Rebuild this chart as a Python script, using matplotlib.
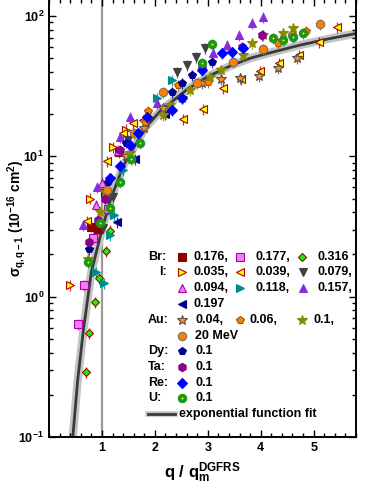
import matplotlib
matplotlib.use('Agg')
import matplotlib.pyplot as plt
from matplotlib.ticker import MultipleLocator, LogLocator, NullFormatter
import numpy as np

plt.rcParams['font.family'] = ['Liberation Sans', 'DejaVu Sans']
plt.rcParams['font.weight'] = 'bold'
plt.rcParams['mathtext.fontset'] = 'custom'
plt.rcParams['mathtext.rm'] = 'Liberation Sans:bold'
plt.rcParams['mathtext.it'] = 'Liberation Sans:bold'
plt.rcParams['mathtext.bf'] = 'Liberation Sans:bold'
plt.rcParams['mathtext.sf'] = 'Liberation Sans:bold'

# data: q/q_m and sigma (1e-16 cm2)
br176_q = [0.80, 0.92, 1.05, 1.33]
br176_s = [3.15, 3.05, 5.5, 10.7]
br177_q = [0.54, 0.67, 0.84, 1.12]
br177_s = [0.64, 1.21, 2.63, 4.2]
br316_q = [0.69, 0.76, 0.87, 0.95, 1.08, 1.16]
br316_s = [0.29, 0.55, 0.91, 1.36, 2.1, 2.95]

i035_q = [0.40, 0.78, 1.21, 1.45]
i035_s = [1.21, 5.0, 11.6, 15.5]
i039_q = [0.72, 1.10, 1.40, 1.59, 1.78, 2.53, 2.91, 3.29, 3.63, 3.99, 4.35, 4.72, 5.10, 5.44]
i039_s = [3.45, 9.2, 14.7, 17.3, 18.1, 18.5, 21.8, 30.7, 35.5, 40.6, 46.3, 52.7, 65.3, 83.5]
i079_q = [1.02, 1.21, 1.50, 2.42, 2.61, 2.78, 2.95]
i079_s = [3.08, 5.13, 13.0, 39.9, 44.8, 51.0, 59.0]
i094_q = [0.88, 1.00, 1.30]
i094_s = [4.5, 6.5, 11.0]
i118_q = [0.89, 1.03, 1.16, 1.23, 1.40, 2.04, 2.33]
i118_s = [1.5, 1.25, 2.75, 3.8, 8.0, 26.0, 35.0]
i157_q = [0.65, 0.91, 1.35, 1.53, 2.04, 3.10, 3.36, 3.59, 3.84, 4.04]
i157_s = [3.24, 6.0, 13.7, 19.1, 24.0, 54.5, 62.0, 73.0, 89.0, 98.4]
i197_q = [1.29, 1.62, 2.20]
i197_s = [3.4, 9.5, 20.0]

au004_q = [1.10, 1.45, 1.80, 2.16, 2.52, 2.89, 3.25, 3.60, 3.97, 4.33, 4.68]
au004_s = [5.5, 10.0, 16.0, 22.0, 26.0, 33.3, 35.5, 36.1, 37.4, 42.6, 50.2]
au006_q = [1.82, 1.87, 2.44, 3.01, 4.33, 4.86]
au006_s = [17.6, 21.0, 32.3, 33.8, 64.0, 78.0]
au01_q = [0.74, 0.97, 1.06, 1.53, 2.16, 2.29, 2.67, 3.04, 3.25, 3.67, 3.84, 4.04, 4.42, 4.61]
au01_s = [1.87, 4.0, 5.6, 10.5, 19.7, 23.3, 29.8, 36.8, 41.3, 52.7, 64.0, 73.0, 75.7, 82.0]
au20_q = [1.10, 1.61, 2.16, 2.80, 3.48, 4.04, 4.59, 5.12]
au20_s = [5.8, 14.7, 28.8, 33.3, 47.0, 58.0, 73.0, 87.7]

dy_q = [0.76, 1.12, 1.45, 2.33, 2.52, 2.70, 3.08]
dy_s = [2.18, 6.6, 12.5, 28.8, 33.3, 38.0, 47.0]
ta_q = [0.76, 0.93, 1.05, 1.35, 2.90, 3.65, 4.02]
ta_s = [2.45, 3.5, 5.0, 11.1, 43.3, 60.0, 73.0]
re_q = [1.16, 1.35, 1.53, 1.68, 1.85, 2.33, 2.52, 2.89, 3.27, 3.46, 3.67]
re_s = [7.0, 8.6, 12.1, 14.7, 19.1, 21.3, 26.0, 41.2, 54.5, 55.4, 59.0]
u_q = [0.74, 0.97, 1.16, 1.35, 1.55, 1.72, 2.89, 3.08, 4.23, 4.42, 4.61, 4.80]
u_s = [1.77, 3.35, 4.28, 6.56, 9.57, 12.4, 46.2, 63.0, 69.7, 67.0, 70.8, 75.7]

fit_q = [0.45, 0.54, 0.65, 0.80, 1.00, 1.16, 1.40, 1.82, 2.10, 2.61, 3.00, 3.42, 3.80, 4.12, 4.74, 5.30, 5.80]
fit_s = [0.10, 0.25, 0.58, 1.5, 3.0, 4.9, 8.5, 16.0, 21.0, 30.0, 37.0, 44.0, 50.0, 54.0, 62.0, 69.0, 75.0]

rel_err = 0.09

# marker, face, edge, size
styles = {
    'br176': ('s', '#8b0000', '#8b0000', 5.2),
    'br177': ('s', '#ee82ee', '#b000b0', 5.2),
    'br316': ('D', '#00ff00', '#b00000', 4.5),
    'i035': ('>', '#ffff00', '#b00000', 6.0),
    'i039': ('<', '#ffff00', '#b00000', 6.0),
    'i079': ('v', '#404040', '#404040', 6.0),
    'i094': ('^', '#ee82ee', '#b000b0', 6.0),
    'i118': ('>', '#008b8b', '#008b8b', 6.0),
    'i157': ('^', '#8a2be2', '#8a2be2', 6.0),
    'i197': ('<', '#00008b', '#00008b', 6.0),
    'au004': ('*', '#ff8c1a', '#505050', 7.5),
    'au006': ('p', '#ff8000', '#a05000', 6.0),
    'au01': ('*', '#8b8b00', '#8b8b00', 7.5),
    'au20': ('o', '#ff8000', '#707070', 6.0),
    'dy': ('p', '#00008b', '#00008b', 6.0),
    'ta': ('h', '#8b008b', '#8b008b', 6.0),
    're': ('D', '#0000ff', '#0000ff', 4.8),
    'u': ('o', '#1c961c', '#1c961c', 6.0),
}
series = {
    'br176': (br176_q, br176_s), 'br177': (br177_q, br177_s), 'br316': (br316_q, br316_s),
    'i035': (i035_q, i035_s), 'i039': (i039_q, i039_s), 'i079': (i079_q, i079_s),
    'i094': (i094_q, i094_s), 'i118': (i118_q, i118_s), 'i157': (i157_q, i157_s),
    'i197': (i197_q, i197_s), 'au004': (au004_q, au004_s), 'au006': (au006_q, au006_s),
    'au01': (au01_q, au01_s), 'au20': (au20_q, au20_s), 'dy': (dy_q, dy_s),
    'ta': (ta_q, ta_s), 're': (re_q, re_s), 'u': (u_q, u_s),
}

W, H = 374, 484
fig = plt.figure(figsize=(W / 100, H / 100), dpi=100)
ax = fig.add_axes([49 / W, 47 / H, 307 / W, 438 / H])
ax.set_yscale('log')
ax.set_xlim(0, 5.8)
ax.set_ylim(0.1, 10 ** (2 + 17 / 140.3))

ax.axvline(1, color='#9a9a9a', lw=1.6, zorder=1)
ax.plot(fit_q, fit_s, color='#c4c4c4', lw=6, zorder=1.5, solid_capstyle='butt')
ax.plot(fit_q, fit_s, color='#3a3a3a', lw=2, zorder=1.6)

for key, (q, s) in series.items():
    m, fc, ec, ms = styles[key]
    s = np.array(s)
    ax.errorbar(q, s, yerr=s * rel_err, fmt='none', ecolor=ec, elinewidth=0.9, alpha=0.8, zorder=2)
    ax.plot(q, s, ls='none', marker=m, mfc=fc, mec=ec, ms=ms, mew=0.8, zorder=3)
    if key == 'u':
        ax.plot(q, s, ls='none', marker='o', mfc='#ffff00', mec='none', ms=1.4, zorder=3.1)

ax.set_xticks([1, 2, 3, 4, 5])
ax.xaxis.set_minor_locator(MultipleLocator(0.2))
ax.set_yticks([0.1, 1, 10, 100])
ax.set_yticklabels(['$10^{-1}$', '$10^{0}$', '$10^{1}$', '$10^{2}$'])
ax.yaxis.set_minor_locator(LogLocator(base=10, subs=np.arange(2, 10)))
ax.yaxis.set_minor_formatter(NullFormatter())
ax.tick_params(which='both', direction='in', top=True, right=True, labelsize=9, width=1.0)
ax.tick_params(which='major', length=5)
ax.tick_params(which='minor', length=3)
for sp in ax.spines.values():
    sp.set_linewidth(1.4)
for lab in ax.get_xticklabels() + ax.get_yticklabels():
    lab.set_fontweight('bold')

ax.set_xlabel('q / q$_m^{DGFRS}$', fontsize=12, fontweight='bold', labelpad=5)
ax.set_ylabel('$\\sigma_{q,q-1}$ (10$^{-16}$ cm$^{2}$)', fontsize=10, fontweight='bold')
ax.yaxis.set_label_coords(-0.068, 0.5)

# hand-made legend, positions in figure pixels
def fx(x):
    return x / W

def fy(y):
    return 1 - y / H

def leg_marker(key, x, y):
    m, fc, ec, ms = styles[key]
    ax.plot([fx(x)], [fy(y)], ls='none', marker=m, mfc=fc, mec=ec, ms=ms, mew=0.8,
            transform=fig.transFigure, clip_on=False, zorder=5)
    if key == 'u':
        ax.plot([fx(x)], [fy(y)], ls='none', marker='o', mfc='#ffff00', mec='none', ms=1.4,
                transform=fig.transFigure, clip_on=False, zorder=5.1)

def leg_text(s, x, y):
    fig.text(fx(x), fy(y), s, fontsize=9, fontweight='bold', ha='left', va='center')

legend_rows = [
    ('Br:', 148, 257, [('br176', 182, 194, '0.176,'), ('br177', 240, 256, '0.177,'), ('br316', 302, 317, '0.316')]),
    ('I:', 159, 272, [('i035', 182, 194, '0.035,'), ('i039', 240, 256, '0.039,'), ('i079', 303, 317, '0.079,')]),
    ('', 0, 288, [('i094', 182, 194, '0.094,'), ('i118', 240, 256, '0.118,'), ('i157', 303, 317, '0.157,')]),
    ('', 0, 304, [('i197', 182, 194, '0.197')]),
    ('Au:', 148, 320, [('au004', 182, 195, '0.04,'), ('au006', 240, 250, '0.06,'), ('au01', 302, 314, '0.1,')]),
    ('', 0, 336, [('au20', 182, 195, '20 MeV')]),
    ('Dy:', 148, 351, [('dy', 182, 195, '0.1')]),
    ('Ta:', 148, 367, [('ta', 182, 195, '0.1')]),
    ('Re:', 148, 383, [('re', 182, 195, '0.1')]),
    ('U:', 148, 398, [('u', 182, 195, '0.1')]),
]
for lab, lx, y, entries in legend_rows:
    if lab:
        leg_text(lab, lx, y)
    for key, mx, tx, txt in entries:
        leg_marker(key, mx, y)
        leg_text(txt, tx, y)

ax.plot([fx(148), fx(175)], [fy(414), fy(414)], color='#c4c4c4', lw=4, transform=fig.transFigure, clip_on=False)
ax.plot([fx(148), fx(175)], [fy(414), fy(414)], color='#3a3a3a', lw=2, transform=fig.transFigure, clip_on=False)
leg_text('exponential function fit', 179, 414)

fig.savefig('out.png', dpi=100)
